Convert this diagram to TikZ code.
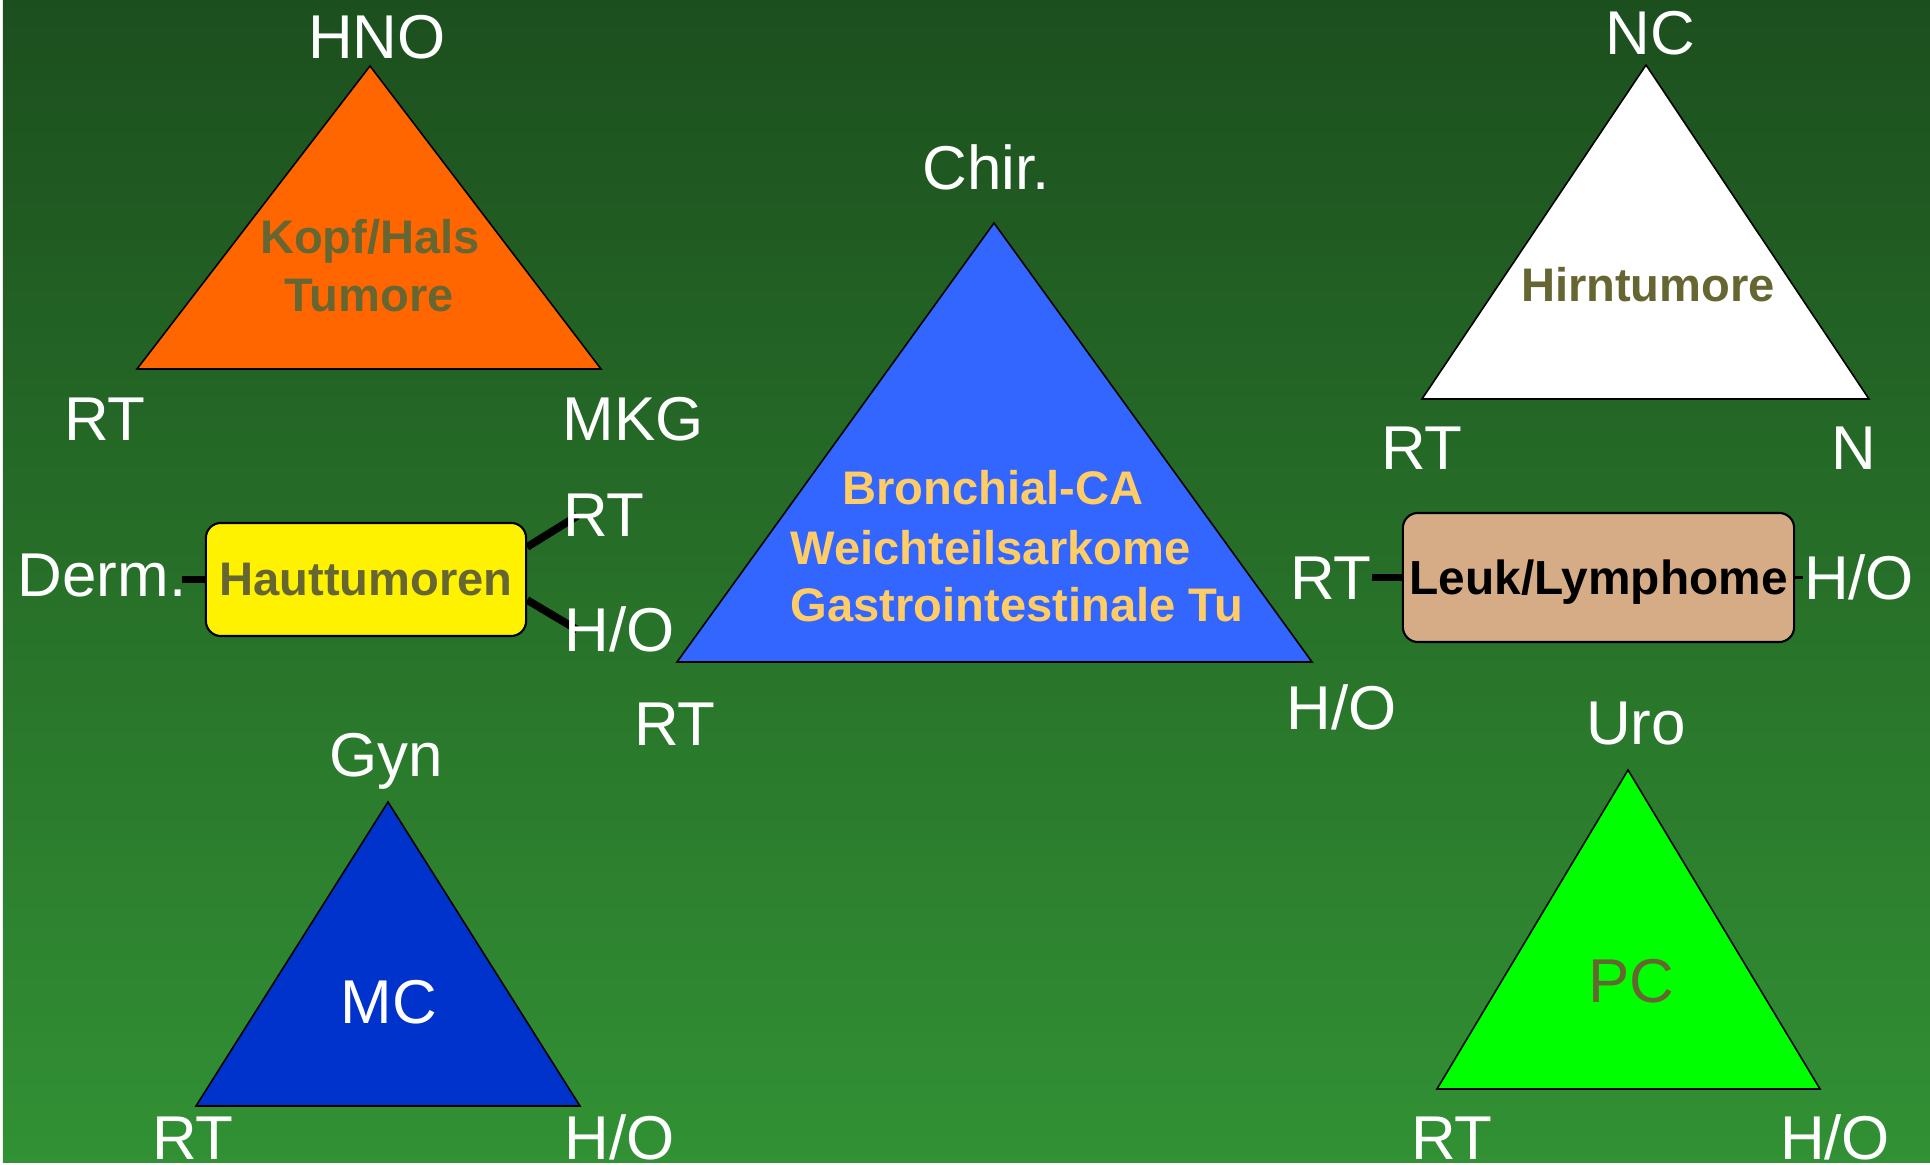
\documentclass[tikz,border=0pt]{standalone}
\usepackage{fontspec}
\setmainfont{Liberation Sans}
\definecolor{bgtop}{RGB}{28,79,30}
\definecolor{bgbot}{RGB}{50,145,52}
\definecolor{olive}{RGB}{102,102,51}
\definecolor{orangeT}{RGB}{255,102,0}
\definecolor{blueT}{RGB}{51,102,255}
\definecolor{navyT}{RGB}{0,51,204}
\definecolor{limeT}{RGB}{0,255,0}
\definecolor{goldT}{RGB}{255,204,102}
\definecolor{tanT}{RGB}{214,172,134}
\pgfdeclarelayer{back}
\pgfdeclarelayer{conns}
\pgfsetlayers{back,conns,main}
\tikzset{
 lbl/.style={text=white, font=\fontsize{17.6pt}{21pt}\selectfont, inner sep=0pt, anchor=base},
 innertxt/.style={font=\bfseries\fontsize{13.4pt}{16.5pt}\selectfont, inner sep=0pt, anchor=base, align=center},
 tri/.style={draw=black, line width=0.45pt, line join=miter},
 boxnode/.style={draw=black, line width=0.6pt, rounded corners=0.15cm, inner sep=0pt, text depth=0pt},
 conn/.style={draw=black, line width=2.2pt},
 thinconn/.style={draw=black, line width=0.9pt},
}
\begin{document}
\begin{tikzpicture}[x=0.01cm,y=-0.01cm]
\useasboundingbox (0,0) rectangle (1930,1165);
\begin{pgfonlayer}{back}
\fill[white] (0,0) rectangle (1930,1165);
\shade[top color=bgtop, bottom color=bgbot] (3,0) rectangle (1930,1163);
\end{pgfonlayer}

% triangle vertices
\coordinate (o1) at (370,66);  \coordinate (o2) at (137,369);  \coordinate (o3) at (601,369);
\coordinate (b1) at (994,223); \coordinate (b2) at (677,662);  \coordinate (b3) at (1312,662);
\coordinate (w1) at (1646,65); \coordinate (w2) at (1422,399); \coordinate (w3) at (1869,399);
\coordinate (m1) at (388,802); \coordinate (m2) at (196,1106); \coordinate (m3) at (580,1106);
\coordinate (p1) at (1628,770);\coordinate (p2) at (1437,1089);\coordinate (p3) at (1820,1089);

\filldraw[tri, fill=orangeT] (o1) -- (o2) -- (o3) -- cycle;
\filldraw[tri, fill=blueT] (b1) -- (b2) -- (b3) -- cycle;
\filldraw[tri, fill=white] (w1) -- (w2) -- (w3) -- cycle;
\filldraw[tri, fill=navyT] (m1) -- (m2) -- (m3) -- cycle;
\filldraw[tri, fill=limeT] (p1) -- (p2) -- (p3) -- cycle;

% texts inside triangles
\node[innertxt, text=olive] (kopf) at (370,254) {Kopf/Hals};
\node[innertxt, text=olive] (tumore) at (369,312) {Tumore};
\node[innertxt, text=goldT] (bron) at (993,505) {Bronchial-CA};
\node[innertxt, text=goldT, anchor=base west] (weich) at (790,565) {Weichteilsarkome};
\node[innertxt, text=goldT, anchor=base west] (gastro) at (790,622) {Gastrointestinale Tu};
\node[innertxt, text=olive] (hirn) at (1648,302) {Hirntumore};
\node[lbl] (mc) at (389,1024) {MC};
\node[lbl, text=olive] (pc) at (1631,1003) {PC};

% vertex labels
\node[lbl] (hno) at (377,59) {HNO};
\node[lbl] (rt1) at (105,441) {RT};
\node[lbl] (mkg) at (633,441) {MKG};
\node[lbl] (chir) at (986,190) {Chir.};
\node[lbl] (rt2) at (675,746) {RT};
\node[lbl] (ho2) at (1342,730) {H/O};
\node[lbl] (nc) at (1650,55) {NC};
\node[lbl] (rt3) at (1422,470) {RT};
\node[lbl] (n3) at (1854,470) {N};
\node[lbl] (gyn) at (386,777) {Gyn};
\node[lbl] (rt4) at (193,1160) {RT};
\node[lbl] (ho4) at (620,1160) {H/O};
\node[lbl] (uro) at (1636,745) {Uro};
\node[lbl] (rt5) at (1452,1160) {RT};
\node[lbl] (ho5) at (1835,1160) {H/O};

% boxes
\node[boxnode, fill=yellow, minimum width=3.2cm, minimum height=1.13cm,
      font=\bfseries\fontsize{13.4pt}{16pt}\selectfont, text=olive] (haut) at (366,579.5) {Hauttumoren};
\node[boxnode, fill=tanT, minimum width=3.91cm, minimum height=1.29cm,
      font=\bfseries\fontsize{13.6pt}{16pt}\selectfont, text=black] (leuk) at (1598.5,577.5) {Leuk/Lymphome};

\node[lbl] (derm) at (102,597) {Derm.};
\node[lbl] (rtb) at (604,537) {RT};
\node[lbl] (hob) at (620,652) {H/O};
\node[lbl] (rtl) at (1331,600) {RT};
\node[lbl] (hol) at (1859,600) {H/O};

\begin{pgfonlayer}{conns}
\draw[conn] (haut.west) -- ([xshift=-0.05cm]haut.west -| derm.east);
\draw[conn] ([yshift=0.325cm]haut.east) -- ([xshift=0.15cm]rtb.west);
\draw[conn] ([yshift=-0.205cm]haut.east) -- ([xshift=0.13cm]hob.west);
\draw[conn] (leuk.west) -- (leuk.west -| rtl.east);
\draw[thinconn] (leuk.east) -- (leuk.east -| hol.west);
\end{pgfonlayer}
\end{tikzpicture}
\end{document}
